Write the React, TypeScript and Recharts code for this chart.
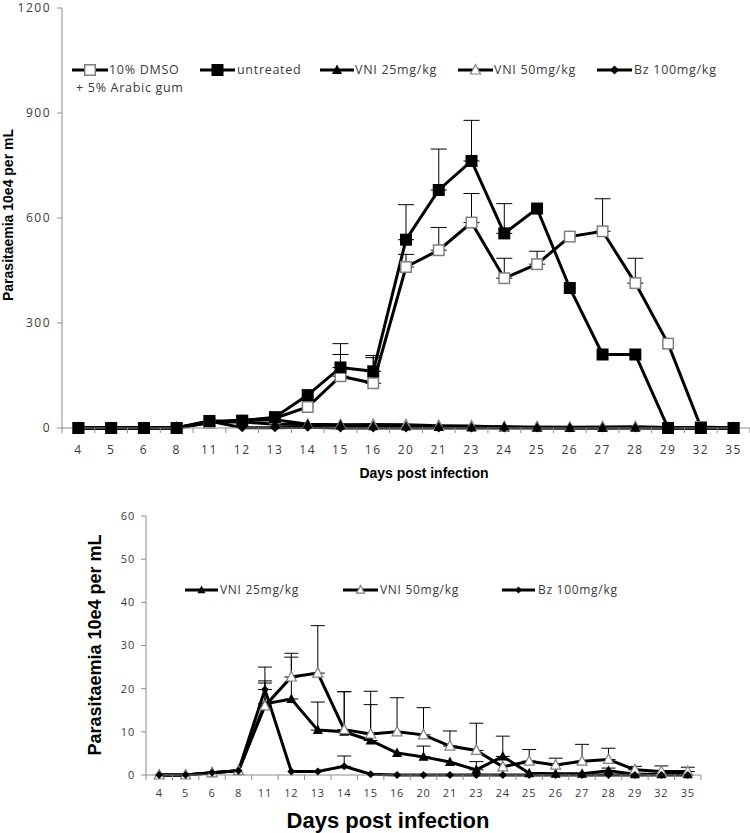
import React from 'react';
import { LineChart, Line, XAxis, YAxis, ErrorBar, Legend } from 'recharts';

const days = ['4', '5', '6', '8', '11', '12', '13', '14', '15', '16', '20', '21', '23', '24', '25', '26', '27', '28', '29', '32', '35'];

// Top panel (10% DMSO + 5% Arabic gum, untreated)
const dmso = [0, 0, 0, 0, 15, 22, 28, 60, 148, 128, 460, 508, 587, 428, 468, 547, 562, 414, 241, 3, 0];
const dmsoErr = [null, null, null, null, null, null, null, null, 62, 73, 36, 65, 83, 57, 37, null, 93, 71, null, null, null];
const untreated = [0, 0, 0, 0, 20, 20, 31, 94, 173, 162, 538, 680, 763, 556, 627, 400, 210, 210, 0, 0, 0];
const untreatedErr = [null, null, null, null, null, null, null, null, 68, 45, 100, 117, 116, 85, null, null, null, null, null, null, null];

// Treated groups (shown in both panels)
const vni25 = [0, 0, 0.5, 1, 16.5, 17.6, 10.4, 10, 8, 5.1, 4.2, 3, 1.2, 4.3, 0.4, 0.3, 0.3, 1, 0.2, 0.2, 0.2];
const vni25Err = [null, null, null, null, 5.3, 9.7, 6.5, 9.3, 8.3, null, 2.5, null, 1.9, 4.7, null, null, null, 0.6, null, null, null];
const vni50 = [0, 0, 0.5, 1, 16, 22.7, 23.6, 10.5, 9.5, 10, 9.3, 6.7, 5.7, 1.9, 3.2, 2.3, 3.2, 3.6, 1.2, 0.8, 0.8];
const vni50Err = [null, null, null, null, 9, 5.5, 11, 8.8, 9.9, 7.9, 6.3, 3.5, 6.3, null, 2.7, 1.6, 3.9, 2.6, 0.8, 1.3, 1.0];
const bz = [0, 0, 0.5, 1, 19.8, 0.8, 0.8, 2, 0.2, 0, 0, 0, 0, 0, 0, 0, 0, 0, 0, 0, 0];
const bzErr = [null, null, null, null, 1.5, null, null, 2.4, null, null, null, null, null, null, null, null, null, null, null, null, null];

const topTicks = [0, 300, 600, 900, 1200];
const bottomTicks = [0, 10, 20, 30, 40, 50, 60];

const seriesLabels = {
  dmso: '10% DMSO',
  dmso2: '+ 5% Arabic gum',
  untreated: 'untreated',
  vni25: 'VNI 25mg/kg',
  vni50: 'VNI 50mg/kg',
  bz: 'Bz 100mg/kg',
};

const err = (v: number | null) => (v == null ? undefined : [0, v]);

const topData = days.map((d, i) => ({
  day: d,
  dmso: dmso[i], dmsoErr: err(dmsoErr[i]),
  untreated: untreated[i], untreatedErr: err(untreatedErr[i]),
  vni25: vni25[i], vni50: vni50[i], bz: bz[i],
}));

const bottomData = days.map((d, i) => ({
  day: d,
  vni25: vni25[i], vni25Err: err(vni25Err[i]),
  vni50: vni50[i], vni50Err: err(vni50Err[i]),
  bz: bz[i], bzErr: err(bzErr[i]),
}));

const TICK_FONT = "'Open Sans', 'DejaVu Sans', sans-serif";
const TITLE_FONT = "'Liberation Sans', Arial, sans-serif";
const AXIS = '#8c8c8c';
const TXT = '#3a3a3a';

function marker(kind: string, size: number, cx: number, cy: number, key?: any) {
  const h = size / 2;
  switch (kind) {
    case 'fsq':
      return <rect key={key} x={cx - h} y={cy - h} width={size} height={size} fill="#000" />;
    case 'osq':
      return <rect key={key} x={cx - h + 0.75} y={cy - h + 0.75} width={size - 1.5} height={size - 1.5} fill="#fff" stroke="#7f7f7f" strokeWidth={1.5} />;
    case 'ftri':
      return <polygon key={key} points={`${cx},${cy - size * 0.55} ${cx + h},${cy + size * 0.4} ${cx - h},${cy + size * 0.4}`} fill="#000" />;
    case 'otri':
      return <polygon key={key} points={`${cx},${cy - size * 0.55} ${cx + h},${cy + size * 0.4} ${cx - h},${cy + size * 0.4}`} fill="#fff" stroke="#7f7f7f" strokeWidth={1.2} />;
    case 'dia':
      return <polygon key={key} points={`${cx},${cy - h} ${cx + h},${cy} ${cx},${cy + h} ${cx - h},${cy}`} fill="#000" />;
    default:
      return <g key={key} />;
  }
}

const dotFn = (kind: string, size: number) => (p: any) => {
  if (p.cx == null || p.cy == null) return <g key={p.index} />;
  return marker(kind, size, p.cx, p.cy, p.index);
};

const makeXTick = (bw: number, axisY: number, labelY: number, n: number, fontSize: number, spacing: number) => (props: any) => {
  const { x, payload, index } = props;
  return (
    <g key={`t${index}`}>
      <line x1={x - bw / 2} x2={x - bw / 2} y1={axisY} y2={axisY + 5} stroke={AXIS} />
      {index === n - 1 && <line x1={x + bw / 2} x2={x + bw / 2} y1={axisY} y2={axisY + 5} stroke={AXIS} />}
      <text x={x} y={labelY} textAnchor="middle" fill={TXT} fontSize={fontSize} fontFamily={TICK_FONT} letterSpacing={spacing}>
        {payload.value}
      </text>
    </g>
  );
};

type LegItem = { kind: string; size: number; x0: number; x1: number; tx: number; label: string; sub?: string; subX?: number };

const makeLegend = (items: LegItem[], cy: number, fontSize: number) => () => (
  <div style={{ position: 'relative', width: 0, height: 0 }}>
    {items.map((it, i) => (
      <React.Fragment key={i}>
        <svg style={{ position: 'absolute', left: it.x0, top: cy - 8 }} width={it.x1 - it.x0} height={16}>
          <line x1={0} x2={it.x1 - it.x0} y1={8} y2={8} stroke="#000" strokeWidth={3} />
          {marker(it.kind, it.size, (it.x1 - it.x0) / 2, 8)}
        </svg>
        <div style={{ position: 'absolute', left: it.tx, top: cy - 7, fontFamily: TICK_FONT, fontSize, lineHeight: '14px', color: TXT, whiteSpace: 'nowrap', letterSpacing: 0.7 }}>
          {it.label}
        </div>
        {it.sub && (
          <div style={{ position: 'absolute', left: it.subX, top: cy + 11, fontFamily: TICK_FONT, fontSize, lineHeight: '14px', color: TXT, whiteSpace: 'nowrap', letterSpacing: 0.7 }}>
            {it.sub}
          </div>
        )}
      </React.Fragment>
    ))}
  </div>
);

const topLegendItems: LegItem[] = [
  { kind: 'osq', size: 12, x0: 72, x1: 108, tx: 109, label: seriesLabels.dmso, sub: seriesLabels.dmso2, subX: 76 },
  { kind: 'fsq', size: 12, x0: 200, x1: 235, tx: 237, label: seriesLabels.untreated },
  { kind: 'ftri', size: 10, x0: 320, x1: 354, tx: 355, label: seriesLabels.vni25 },
  { kind: 'otri', size: 10, x0: 458, x1: 493, tx: 494, label: seriesLabels.vni50 },
  { kind: 'dia', size: 9, x0: 597, x1: 632, tx: 634, label: seriesLabels.bz },
];

const bottomLegendItems: LegItem[] = [
  { kind: 'ftri', size: 8, x0: 185, x1: 218, tx: 220, label: seriesLabels.vni25 },
  { kind: 'otri', size: 8, x0: 343, x1: 378, tx: 380, label: seriesLabels.vni50 },
  { kind: 'dia', size: 7, x0: 502, x1: 535, tx: 538, label: seriesLabels.bz },
];

const yTitle = (x: number, y: number, size: number) => () => (
  <text x={x} y={y} transform={`rotate(-90 ${x} ${y})`} textAnchor="middle" dominantBaseline="central" fontFamily={TITLE_FONT} fontWeight="bold" fontSize={size} fill="#000">
    Parasitaemia 10e4 per mL
  </text>
);

const xTitle = (x: number, y: number, size: number) => () => (
  <text x={x} y={y} textAnchor="middle" dominantBaseline="central" fontFamily={TITLE_FONT} fontWeight="bold" fontSize={size} fill="#000">
    Days post infection
  </text>
);

const n = days.length;
const topBw = 688 / n;
const botBw = 555 / n;

export default function App() {
  return (
    <div style={{ position: 'absolute', left: 0, top: 0, width: 750, height: 833, background: '#fff' }}>
      <div style={{ position: 'absolute', left: 0, top: 0 }}>
        <LineChart width={750} height={490} data={topData} margin={{ top: 8, right: 0, left: 0, bottom: 0 }}>
          <XAxis
            dataKey="day"
            height={62}
            interval={0}
            padding={{ left: topBw / 2, right: topBw / 2 }}
            tickLine={false}
            axisLine={{ stroke: AXIS }}
            tick={makeXTick(topBw, 428, 454, n, 12, 1.5)}
            label={xTitle(424, 473, 14)}
          />
          <YAxis
            width={62}
            domain={[0, 1200]}
            ticks={topTicks}
            interval={0}
            tickSize={5}
            tickMargin={6}
            axisLine={{ stroke: AXIS }}
            tickLine={{ stroke: AXIS }}
            tick={{ fill: TXT, fontSize: 12, fontFamily: TICK_FONT, letterSpacing: 1.5 }}
            label={yTitle(8, 215, 14)}
          />
          <Legend content={makeLegend(topLegendItems, 70, 12.5)} wrapperStyle={{ top: 0, left: 0, width: 0, height: 0 }} />
          <Line dataKey="dmso" isAnimationActive={false} stroke="#000" strokeWidth={3} dot={dotFn('osq', 12)} activeDot={false}>
            <ErrorBar dataKey="dmsoErr" width={8} stroke="#000" strokeWidth={1} direction="y" />
          </Line>
          <Line dataKey="vni50" isAnimationActive={false} stroke="#000" strokeWidth={3} dot={dotFn('otri', 10)} activeDot={false} />
          <Line dataKey="vni25" isAnimationActive={false} stroke="#000" strokeWidth={3} dot={dotFn('ftri', 10)} activeDot={false} />
          <Line dataKey="bz" isAnimationActive={false} stroke="#000" strokeWidth={3} dot={dotFn('dia', 9)} activeDot={false} />
          <Line dataKey="untreated" isAnimationActive={false} stroke="#000" strokeWidth={3} dot={dotFn('fsq', 12)} activeDot={false}>
            <ErrorBar dataKey="untreatedErr" width={8} stroke="#000" strokeWidth={1} direction="y" />
          </Line>
        </LineChart>
      </div>
      <div style={{ position: 'absolute', left: 0, top: 490 }}>
        <LineChart width={750} height={343} data={bottomData} margin={{ top: 26, right: 49, left: 0, bottom: 0 }}>
          <XAxis
            dataKey="day"
            height={58}
            interval={0}
            padding={{ left: botBw / 2, right: botBw / 2 }}
            tickLine={false}
            axisLine={{ stroke: AXIS }}
            tick={makeXTick(botBw, 285, 307, n, 11, 0.8)}
            label={xTitle(388, 330, 22)}
          />
          <YAxis
            width={146}
            domain={[0, 60]}
            ticks={bottomTicks}
            interval={0}
            tickSize={5}
            tickMargin={6}
            axisLine={{ stroke: AXIS }}
            tickLine={{ stroke: AXIS }}
            tick={{ fill: TXT, fontSize: 11, fontFamily: TICK_FONT, letterSpacing: 0.8 }}
            label={yTitle(95, 155, 18)}
          />
          <Legend content={makeLegend(bottomLegendItems, 100, 12)} wrapperStyle={{ top: 0, left: 0, width: 0, height: 0 }} />
          <Line dataKey="vni25" isAnimationActive={false} stroke="#000" strokeWidth={3} dot={dotFn('ftri', 10)} activeDot={false}>
            <ErrorBar dataKey="vni25Err" width={7} stroke="#000" strokeWidth={1} direction="y" />
          </Line>
          <Line dataKey="vni50" isAnimationActive={false} stroke="#000" strokeWidth={3} dot={dotFn('otri', 10)} activeDot={false}>
            <ErrorBar dataKey="vni50Err" width={7} stroke="#000" strokeWidth={1} direction="y" />
          </Line>
          <Line dataKey="bz" isAnimationActive={false} stroke="#000" strokeWidth={3} dot={dotFn('dia', 8)} activeDot={false}>
            <ErrorBar dataKey="bzErr" width={7} stroke="#000" strokeWidth={1} direction="y" />
          </Line>
        </LineChart>
      </div>
    </div>
  );
}
